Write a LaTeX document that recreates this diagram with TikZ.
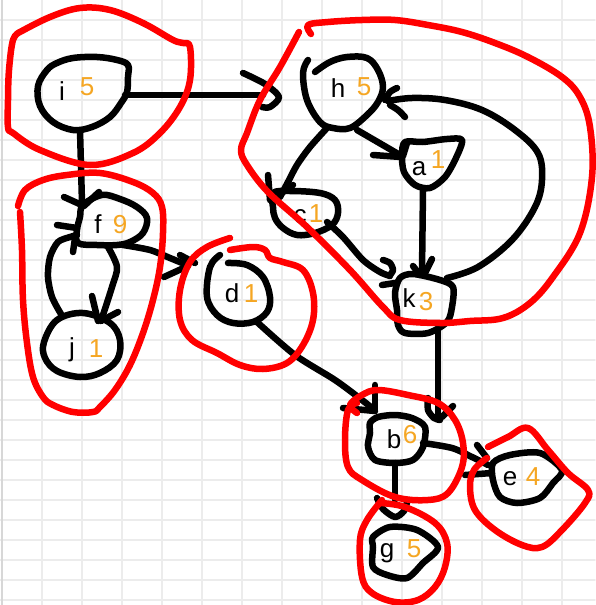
\documentclass[tikz,border=0pt]{standalone}
\usepackage{fontspec}
\setmainfont{Liberation Sans}
\definecolor{paper}{RGB}{255,255,255}
\definecolor{gridline}{RGB}{236,236,236}
\definecolor{gridedge}{RGB}{215,215,215}
\definecolor{weight}{RGB}{245,166,35}
\definecolor{marker}{RGB}{255,0,0}
\begin{document}
\begin{tikzpicture}[x=1pt,y=-1pt,line cap=round,line join=round,
  pen/.style={draw=black,line width=6.5pt},
  redpen/.style={draw=marker,line width=6.5pt},
  letter/.style={anchor=base,inner sep=0pt,font=\fontsize{26}{30}\selectfont},
  digit/.style={anchor=base,inner sep=0pt,text=weight,font=\fontsize{26}{30}\selectfont}]
\useasboundingbox (0,0) rectangle (595,605);
\fill[paper] (0,0) rectangle (595,605);
% squared paper
\foreach \gx in {42,82,...,594} \draw[gridline,line width=1.5pt] (\gx,0) -- (\gx,605);
\foreach \gy in {20,40,...,600} \draw[gridline,line width=1.5pt] (0,\gy) -- (595,\gy);
\draw[gridedge,line width=1.5pt] (2,0) -- (2,605);

% ---------- vertex outlines ----------
\draw[pen] plot[smooth cycle,tension=0.6] coordinates {(47,70) (38,86) (40,106) (53,122) (73,130) (92,127) (110,117) (121,103) (127,92) (128,77) (128,65) (117,60) (97,57) (73,58) (57,63)};
\draw[pen] plot[smooth,tension=0.6] coordinates {(315,72) (330,62) (347,57) (367,58) (378,70) (383,87) (378,102) (367,115) (350,128) (333,128) (320,122) (307,100) (303,73) (308,60)};
\draw[pen] plot[smooth cycle,tension=0.5] coordinates {(405,142) (402,155) (404,172) (415,185) (430,188) (445,177) (456,158) (462,140) (447,139) (423,142)};
\draw[pen] plot[smooth cycle,tension=0.6] coordinates {(273,193) (290,191) (320,193) (335,200) (338,213) (332,225) (315,233) (297,235) (283,228) (275,218) (273,207)};
\draw[pen] plot[smooth cycle,tension=0.5] coordinates {(400,278) (413,274) (440,280) (453,287) (452,307) (447,322) (428,333) (405,333) (398,325) (397,310) (395,293)};
\draw[pen] plot[smooth cycle,tension=0.6] coordinates {(83,205) (102,195) (120,199) (137,207) (147,218) (143,233) (130,242) (117,245) (97,245) (78,243) (77,230) (80,217)};
\draw[pen] plot[smooth cycle,tension=0.6] coordinates {(44,342) (57,320) (83,313) (110,323) (120,340) (117,360) (100,373) (80,377) (57,371) (45,358)};
\draw[pen] plot[smooth,tension=0.6] coordinates {(228,263) (247,265) (263,277) (270,297) (267,312) (253,322) (233,323) (217,315) (207,297) (210,267) (220,255)};
\draw[pen] plot[smooth cycle,tension=0.5] coordinates {(370,423) (378,417) (395,415) (412,418) (425,427) (423,447) (413,460) (395,463) (375,460) (368,447) (370,433)};
\draw[pen] plot[smooth cycle,tension=0.5] coordinates {(493,463) (510,455) (540,453) (562,470) (553,483) (540,498) (517,503) (500,497) (493,480)};
\draw[pen] plot[smooth cycle,tension=0.5] coordinates {(373,537) (390,527) (417,530) (438,547) (423,563) (407,578) (387,575) (373,567) (373,547)};

% ---------- labels ----------
\node[letter] (i) at (62,100) {i};   \node[digit] (iw) at (87,95) {5};
\node[letter] (h) at (338,97) {h};   \node[digit] (hw) at (364,95) {5};
\node[letter] (a) at (419,175) {a};  \node[digit] (aw) at (438,168) {1};
\node[letter] (c) at (300,223) {c};  \node[digit] (cw) at (316,222) {1};
\node[letter] (k) at (409,307) {k};  \node[digit] (kw) at (426,310) {3};
\node[letter] (f) at (98,233) {f};   \node[digit] (fw) at (120,233) {9};
\node[letter] (j) at (72,356) {j};   \node[digit] (jw) at (96,357) {1};
\node[letter] (d) at (232,302) {d};  \node[digit] (dw) at (251,302) {1};
\node[letter] (b) at (394,448) {b};  \node[digit] (bw) at (410,443) {6};
\node[letter] (e) at (510,485) {e};  \node[digit] (ew) at (533,485) {4};
\node[letter] (g) at (387,557) {g};  \node[digit] (gw) at (414,557) {5};

% ---------- connector ends ----------
\coordinate (iE) at (125,95);   \coordinate (hW) at (263,95);
\coordinate (iS) at (80,130);   \coordinate (fN) at (82,203);
\coordinate (kS) at (438,330);  \coordinate (bNE) at (438,415);
\coordinate (bS) at (395,463);  \coordinate (gN) at (395,505);
\coordinate (hSE) at (357,130); \coordinate (aNW) at (400,155);
\coordinate (aS) at (423,190);  \coordinate (kN) at (422,272);

% ---------- connectors ----------
\draw[pen] (iE) -- (hW);
\draw[pen] plot[smooth] coordinates {(243,73) (265,84) (279,97) (270,107) (262,107)};

\draw[pen] (iS) -- (fN);
\draw[pen] (64,197) -- (84,206) -- (99,192);

\draw[pen] plot[smooth] coordinates {(61,314) (52,297) (48,277) (50,257) (58,242) (70,237) (77,235)};
\draw[pen] (57,225) -- (77,228);
\draw[pen] (73,252) -- (75,238);

\draw[pen] plot[smooth] coordinates {(108,247) (117,267) (112,287) (102,318)};
\draw[pen] (92,296) -- (98,321);
\draw[pen] (118,312) -- (101,321);

\draw[pen] plot[smooth] coordinates {(123,245) (150,250) (170,258) (187,265)};
\draw[pen] (164,277) -- (188,266);
\draw[pen] (180,255) -- (195,263);

\draw[pen] plot[smooth] coordinates {(257,322) (295,355) (335,380) (362,400) (372,408)};
\draw[pen] (343,408) -- (375,411);
\draw[pen] (375,385) -- (375,411);

\draw[pen] (kS) -- (bNE);
\draw[pen] plot[smooth] coordinates {(428,398) (428,410) (434,418) (440,420)};
\draw[pen] (453,406) -- (442,417);

\draw[pen] plot[smooth] coordinates {(423,443) (452,448) (472,457) (488,465)};
\draw[pen] (477,445) -- (487,458);
\draw[pen] (465,475) -- (492,473);

\draw[pen] (bS) -- (395,500);
\draw[pen] plot[smooth] coordinates {(377,498) (383,509) (395,517) (404,511) (407,502)};

\draw[pen] (hSE) -- (aNW);
\draw[pen] (373,155) -- (401,157);
\draw[pen] (407,143) -- (403,156);

\draw[pen] (aS) -- (kN);
\draw[pen] (413,266) -- (420,275);
\draw[pen] (432,259) -- (425,273);

\draw[pen] plot[smooth,tension=0.6] coordinates {(447,278) (478,267) (512,240) (535,207) (542,180) (538,153) (515,130) (482,110) (445,100) (412,98) (388,101)};
\draw[pen] plot[smooth] coordinates {(397,88) (390,92) (385,100)};
\draw[pen] plot[smooth] coordinates {(405,117) (398,110) (390,105)};

\draw[pen] plot[smooth] coordinates {(327,128) (310,147) (297,165) (288,182) (280,197)};
\draw[pen] (268,175) -- (270,200);
\draw[pen] plot[smooth] coordinates {(293,185) (283,192) (277,197)};

\draw[pen] plot[smooth] coordinates {(327,222) (343,237) (363,260) (380,272) (390,276)};
\draw[pen] plot[smooth] coordinates {(383,260) (390,263) (393,270) (390,275)};
\draw[pen] (382,285) -- (395,283);

% ---------- group loops ----------
\draw[redpen] plot[smooth,tension=0.6] coordinates {(20,32) (13,40) (9,70) (8,100) (8,127) (13,133) (40,150) (90,165) (133,153) (160,133) (180,107) (190,80) (190,47) (183,43) (173,40) (143,23) (110,10) (80,8) (50,17) (20,32)};
\draw[redpen] plot[smooth,tension=0.6] coordinates {(18,206) (25,190) (43,180) (67,175) (100,173) (133,182) (153,193) (162,207) (163,233) (160,267) (153,300) (143,333) (130,365) (115,390) (100,407) (93,412) (73,412) (53,405) (43,397) (33,377) (27,343) (23,300) (22,250) (20,212)};
\draw[redpen] plot[smooth,tension=0.6] coordinates {(230,238) (207,247) (190,262) (180,290) (180,320) (192,340) (217,353) (240,365) (263,369) (287,363) (303,345) (313,320) (313,293) (303,270) (283,262) (270,258) (265,250) (253,247) (230,250)};
\draw[redpen] plot[smooth,tension=0.6] coordinates {(311,34) (308,25) (328,22) (362,20) (395,20) (428,25) (462,32) (495,43) (528,57) (562,77) (580,97) (590,127) (592,177) (580,233) (553,277) (530,303) (503,318) (470,321) (440,323) (400,320) (383,307) (350,270) (307,227) (268,192) (247,165) (241,150) (247,133) (260,100) (280,67) (299,32)};
\draw[redpen] plot[smooth,tension=0.6] coordinates {(357,413) (350,405) (362,395) (378,390) (408,395) (438,403) (455,420) (463,443) (462,467) (448,493) (428,500) (395,497) (362,480) (348,467) (345,440) (348,410) (357,403)};
\draw[redpen] plot[smooth,tension=0.6] coordinates {(488,447) (508,437) (528,428) (548,450) (568,473) (588,490) (585,503) (562,530) (542,547) (522,545) (495,530) (475,510) (470,487) (474,470) (487,458)};
\draw[redpen] plot[smooth,tension=0.6] coordinates {(380,503) (405,507) (435,523) (447,543) (445,567) (435,587) (418,600) (395,602) (372,593) (362,577) (360,540) (367,520) (382,500)};
\end{tikzpicture}
\end{document}
